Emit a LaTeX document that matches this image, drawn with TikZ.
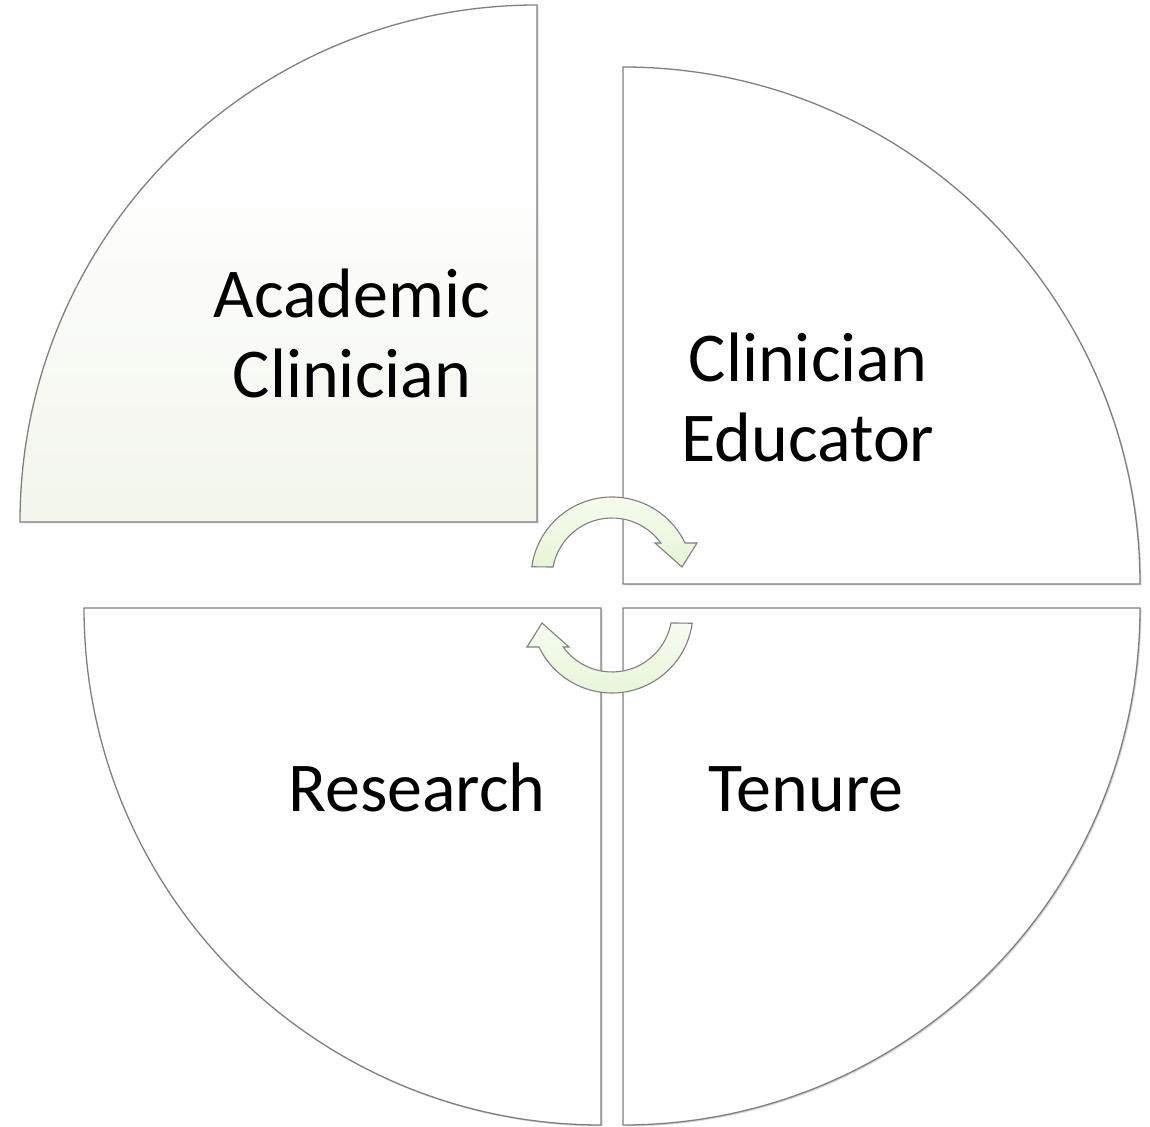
\documentclass[tikz,border=0pt]{standalone}
\usepackage{fontspec}
\setmainfont{Carlito}
\usetikzlibrary{shadows}
\definecolor{edge}{HTML}{7F7F7F}
\definecolor{tlbot}{HTML}{E8EEDC}
\definecolor{arrtop}{HTML}{F6FCF0}
\definecolor{arrbot}{HTML}{E6F5D6}
\pgfdeclareverticalshading{tlshade}{100bp}{color(0bp)=(tlbot); color(25bp)=(tlbot!55!white); color(60bp)=(white); color(100bp)=(white)}
\begin{document}
\begin{tikzpicture}[x=1bp,y=1bp,
  quarter/.style={draw=edge, line width=1.3bp, fill=white,
    drop shadow={shadow xshift=1.5bp,shadow yshift=-1.5bp,opacity=0.3}},
  arr/.style={draw=edge, line width=1.1bp, top color=arrtop, bottom color=arrbot},
  lbl/.style={font=\fontsize{70bp}{80bp}\selectfont, align=center, anchor=base, inner sep=0pt}]
\useasboundingbox (0,0) rectangle (1150,1127);
% quarters
\path[quarter, shading=tlshade]
  (537,605) -- ++(-517,0) arc[start angle=180, end angle=90, radius=517] -- cycle;
\path[quarter] (623,543) -- ++(0,517) arc[start angle=90, end angle=0, radius=517] -- cycle;
\path[quarter] (601,519) -- ++(-517,0) arc[start angle=180, end angle=270, radius=517] -- cycle;
\path[quarter] (623,519) -- ++(517,0) arc[start angle=0, end angle=-90, radius=517] -- cycle;
% circular arrows
\path[arr] ([shift={(612,549)}]172:81) arc[start angle=172, end angle=25.6, radius=81]
  -- (697,584) -- (682,560) -- (655,584) -- ([shift={(612,549)}]35.7:60)
  arc[start angle=35.7, end angle=169.5, radius=60] -- cycle;
\begin{scope}[rotate around={180:(612,532)}]
\path[arr] ([shift={(612,549)}]172:81) arc[start angle=172, end angle=25.6, radius=81]
  -- (697,584) -- (682,560) -- (655,584) -- ([shift={(612,549)}]35.7:60)
  arc[start angle=35.7, end angle=169.5, radius=60] -- cycle;
\end{scope}
% labels
\node[lbl] (ac) at (352,729) {Academic\\Clinician};
\node[lbl] (ce) at (808,665) {Clinician\\Educator};
\node[lbl] (rs) at (417,315) {Research};
\node[lbl] (tn) at (806,315) {Tenure};
\end{tikzpicture}
\end{document}
